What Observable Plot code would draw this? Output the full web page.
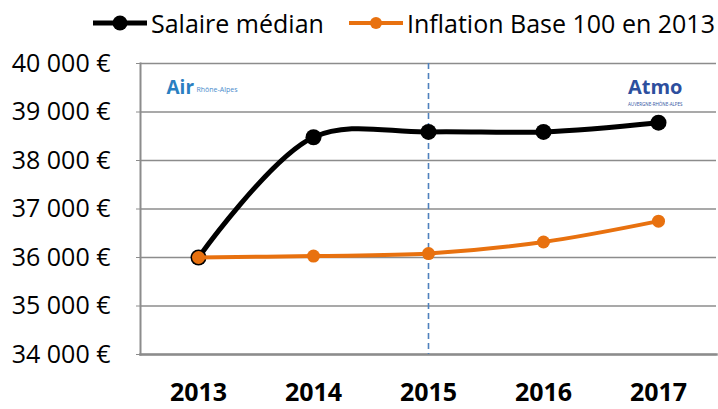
<!DOCTYPE html>
<html>
<head>
<meta charset="utf-8">
<script src="https://cdn.jsdelivr.net/npm/d3@7"></script>
<script src="https://cdn.jsdelivr.net/npm/@observablehq/plot@0.6"></script>
<style>
  body { margin: 0; background: #fff; font-family: "Open Sans", sans-serif; }
  #legend { height: 36px; position: relative; font-size: 25px; color: #000; }
  .item { position: absolute; top: 6px; display: flex; align-items: center; white-space: nowrap; }
  .item svg { margin-right: 3px; }
</style>
</head>
<body>
<div id="legend"></div>
<div id="chart"></div>
<script>
const years = ["2013", "2014", "2015", "2016", "2017"];
const salaire = [36000, 38480, 38590, 38590, 38780];
const inflation = [36000, 36030, 36080, 36320, 36750];
const yTicks = [34000, 35000, 36000, 37000, 38000, 39000, 40000];
const seriesNames = ["Salaire médian", "Inflation Base 100 en 2013"];
const seriesColors = ["#000000", "#e8710f"];
const markerLine = "2015";

const rowsS = years.map((y, i) => ({year: y, value: salaire[i]}));
const rowsI = years.map((y, i) => ({year: y, value: inflation[i]}));

// Legend
const legend = document.getElementById("legend");
const legendX = [92, 348];
seriesNames.forEach((name, i) => {
  const d = document.createElement("div");
  d.className = "item";
  d.style.left = legendX[i] + "px";
  const c = seriesColors[i];
  d.innerHTML = `<svg width="56" height="20"><line x1="1" y1="10" x2="55" y2="10" stroke="${c}" stroke-width="${i ? 4 : 5}"/><circle cx="28" cy="10" r="${i ? 6 : 7.5}" fill="${c}"/></svg><span>${name}</span>`;
  legend.appendChild(d);
});

const fmt = d => d3.format(",")(d).replace(/,/g, "\u00a0") + " €";

const chart = Plot.plot({
  width: 718,
  height: 373,
  marginLeft: 140,
  marginRight: 2,
  marginTop: 27,
  marginBottom: 55,
  style: {fontFamily: "Open Sans, sans-serif", background: "#fff", overflow: "visible"},
  x: {type: "point", domain: years, padding: 0.5, label: null},
  y: {domain: [34000, 40000], label: null},
  marks: [
    Plot.ruleY(yTicks, {stroke: "#8c8c8c", strokeWidth: 1.6}),
    Plot.frame({anchor: "left", stroke: "#8c8c8c", strokeWidth: 2}),
    Plot.frame({anchor: "bottom", stroke: "#8c8c8c", strokeWidth: 2.5}),
    Plot.axisY({ticks: yTicks, tickFormat: fmt, tickSize: 4, tickPadding: 26, fontSize: 25, stroke: "#8c8c8c", fill: "#000", label: null}),
    Plot.axisX({tickSize: 0, tickPadding: 29, fontSize: 25, fontWeight: "bold", fill: "#000", label: null}),
    Plot.ruleX([markerLine], {stroke: "#4f81bd", strokeWidth: 1.6, strokeDasharray: "6,4"}),
    // logos (approximated with text)
    Plot.text(["Air"], {frameAnchor: "top-left", dx: 26, dy: 17, fontSize: 19, fontWeight: "bold", fill: "#2a7fc1", text: d => d}),
    Plot.text(["Rhône-Alpes"], {frameAnchor: "top-left", dx: 56, dy: 24, fontSize: 7, fill: "#4a8ccc", text: d => d}),
    Plot.text(["Atmo"], {frameAnchor: "top-right", dx: -34, dy: 16, fontSize: 20, fontWeight: "bold", fill: "#2d4f9e", text: d => d}),
    Plot.text(["AUVERGNE-RHÔNE-ALPES"], {frameAnchor: "top-right", dx: -34, dy: 39, fontSize: 4.5, fill: "#2d4f9e", text: d => d}),
    Plot.line(rowsS, {x: "year", y: "value", stroke: seriesColors[0], strokeWidth: 5, curve: "catmull-rom"}),
    Plot.dot(rowsS, {x: "year", y: "value", fill: seriesColors[0], r: 8}),
    Plot.line(rowsI, {x: "year", y: "value", stroke: seriesColors[1], strokeWidth: 4, curve: "catmull-rom"}),
    Plot.dot(rowsI, {x: "year", y: "value", fill: seriesColors[1], r: 6.5})
  ]
});
document.getElementById("chart").appendChild(chart);
</script>
</body>
</html>
